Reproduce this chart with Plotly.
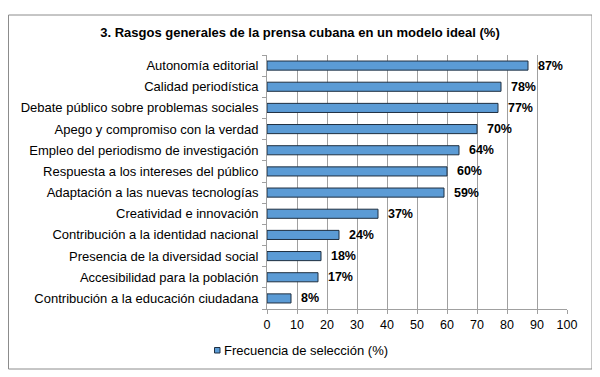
import plotly.graph_objects as go

categories = [
    "Autonomía editorial",
    "Calidad periodística",
    "Debate público sobre problemas sociales",
    "Apego y compromiso con la verdad",
    "Empleo del periodismo de investigación",
    "Respuesta a los intereses del público",
    "Adaptación a las nuevas tecnologías",
    "Creatividad e innovación",
    "Contribución a la identidad nacional",
    "Presencia de la diversidad social",
    "Accesibilidad para la población",
    "Contribución a la educación ciudadana",
]
values = [87, 78, 77, 70, 64, 60, 59, 37, 24, 18, 17, 8]
series_name = "Frecuencia de selección (%)"
title = "3. Rasgos generales de la prensa cubana en un modelo ideal (%)"
x_ticks = [0, 10, 20, 30, 40, 50, 60, 70, 80, 90, 100]

font_family = "Liberation Sans, Arial, sans-serif"
bar_color = "#5B9BD5"
bar_edge = "#1F2F40"

# figure drawn at 592x369 (page body has an 8px margin)
W, H = 592, 369
L, R, T, B = 259, 33, 47, 68
PW, PH = W - L - R, H - T - B

def px(x):
    return (x - L) / PW

def py(y):
    return (H - B - y) / PH

fig = go.Figure()
fig.add_trace(go.Bar(
    y=categories,
    x=values,
    orientation="h",
    name=series_name,
    marker=dict(color=bar_color, line=dict(color=bar_edge, width=1)),
    text=[f"\u00a0\u00a0<b>{v}%</b>" for v in values],
    textposition="outside",
    constraintext="none",
    textfont=dict(family=font_family, size=12.5, color="#000000"),
    cliponaxis=False,
    showlegend=False,
))

fig.update_layout(
    width=W, height=H,
    paper_bgcolor="white", plot_bgcolor="white",
    margin=dict(l=L, r=R, t=T, b=B, autoexpand=False),
    font=dict(family=font_family, size=13, color="#000000"),
    title=dict(text=f"<b>{title}</b>", x=292 / W, xanchor="center", y=1 - 24 / H, yanchor="middle",
               font=dict(family=font_family, size=13, color="#000000")),
    bargap=0.57,
    showlegend=False,
    xaxis=dict(range=[0, 100], tickvals=x_ticks, showgrid=True, gridcolor="#A0A0A0", gridwidth=1,
               showline=True, linecolor="#A0A0A0", ticks="outside", ticklen=4, tickcolor="#A0A0A0",
               zeroline=False, tickfont=dict(size=12.5, color="#000000")),
    yaxis=dict(categoryorder="array", categoryarray=categories[::-1],
               showline=True, linecolor="#A0A0A0", ticks="outside", ticklen=4, tickcolor="#A0A0A0",
               tickson="boundaries", showgrid=False, ticklabelstandoff=5,
               tickfont=dict(size=13, color="#000000")),
    shapes=[
        dict(type="rect", xref="paper", yref="paper",
             x0=px(0.5), x1=px(584), y0=py(361), y1=py(7),
             line=dict(color="#8C8C8C", width=1), fillcolor="rgba(0,0,0,0)", layer="below"),
        dict(type="rect", xref="paper", yref="paper",
             x0=px(206.5), x1=px(212), y0=py(345), y1=py(339.5),
             line=dict(color=bar_edge, width=1), fillcolor=bar_color),
    ],
    annotations=[
        dict(text=series_name, xref="paper", yref="paper", x=px(214), y=py(342),
             xanchor="left", yanchor="middle", showarrow=False,
             font=dict(family=font_family, size=13, color="#000000")),
    ],
)

fig.write_html("out.html")
